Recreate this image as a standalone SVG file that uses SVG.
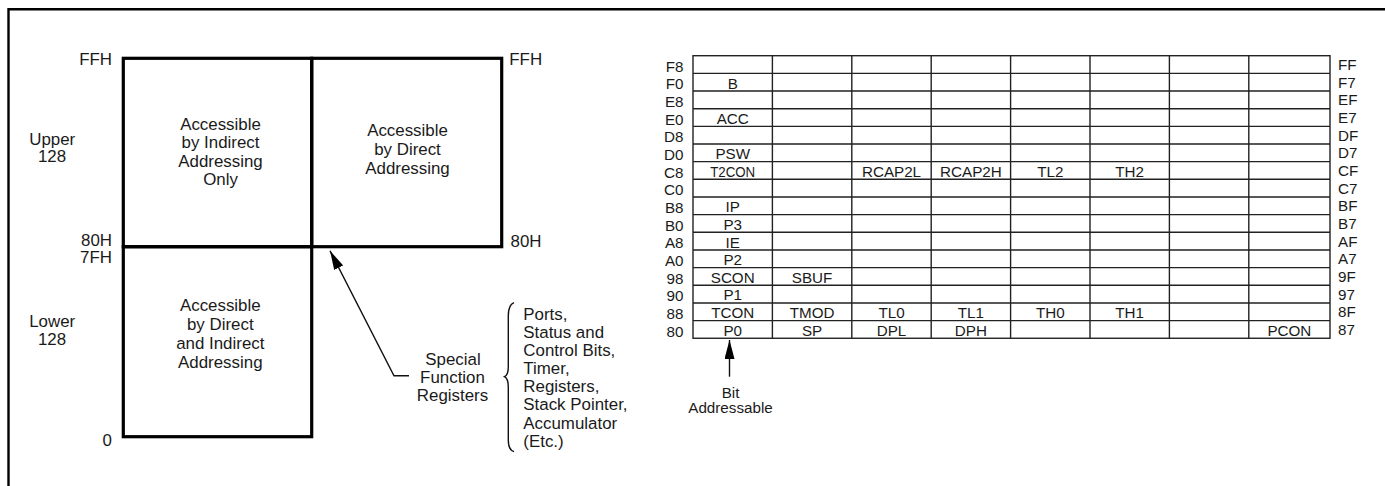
<svg xmlns="http://www.w3.org/2000/svg" width="1385" height="486" viewBox="0 0 1385 486">
<defs>
<style>
.t{font-family:"Liberation Sans",Arial,sans-serif;font-size:16.9px;fill:#1a1a1a}
.s{font-family:"Liberation Sans",Arial,sans-serif;font-size:15.2px;fill:#1a1a1a}
.m{text-anchor:middle}
.e{text-anchor:end}
.box{fill:none;stroke:#000;stroke-width:3.2}
.grid{stroke:#222;stroke-width:1.4;fill:none}
.conn{fill:none;stroke:#111;stroke-width:1.4}
</style>
<marker id="ah" viewBox="0 0 19 10" refX="19" refY="5" markerWidth="19" markerHeight="10" markerUnits="userSpaceOnUse" orient="auto">
<path d="M0,0 L19,5 L0,10 z" fill="#000"/>
</marker>
</defs>
<rect width="1385" height="486" fill="#fff"/>
<path d="M8.5,486 V9.2 H1385" fill="none" stroke="#000" stroke-width="2.4"/>

<g id="upper-indirect">
<rect class="box" x="123.3" y="58.3" width="188.4" height="188.4"/>
<text class="t m" x="220.5" y="130">Accessible</text>
<text class="t m" x="220.5" y="148.4">by Indirect</text>
<text class="t m" x="220.5" y="166.8">Addressing</text>
<text class="t m" x="220.5" y="185.2">Only</text>
</g>
<g id="upper-direct">
<rect class="box" x="311.7" y="58.3" width="190" height="188.4"/>
<text class="t m" x="407.5" y="136">Accessible</text>
<text class="t m" x="407.5" y="155">by Direct</text>
<text class="t m" x="407.5" y="174">Addressing</text>
</g>
<g id="lower">
<rect class="box" x="123.3" y="246.7" width="188.4" height="190"/>
<text class="t m" x="220.3" y="311">Accessible</text>
<text class="t m" x="220.3" y="330">by Direct</text>
<text class="t m" x="220.3" y="349">and Indirect</text>
<text class="t m" x="220.3" y="367.7">Addressing</text>
</g>
<g id="address-labels">
<text class="t e" x="112" y="64.5">FFH</text>
<text class="t m" x="52.2" y="145">Upper</text>
<text class="t m" x="52" y="162.3">128</text>
<text class="t e" x="112" y="246">80H</text>
<text class="t e" x="112" y="263.3">7FH</text>
<text class="t m" x="52.2" y="326.7">Lower</text>
<text class="t m" x="52" y="345">128</text>
<text class="t e" x="112" y="446">0</text>
<text class="t" x="509.3" y="65">FFH</text>
<text class="t" x="510.5" y="247">80H</text>
</g>
<g id="sfr-label">
<text class="t m" x="453" y="365">Special</text>
<text class="t m" x="452.5" y="383">Function</text>
<text class="t m" x="452.5" y="401">Registers</text>
</g>
<g id="sfr-list">
<text class="t" x="523.3" y="320">Ports,</text>
<text class="t" x="523.3" y="338">Status and</text>
<text class="t" x="523.3" y="356">Control Bits,</text>
<text class="t" x="523.3" y="374">Timer,</text>
<text class="t" x="523.3" y="392.3">Registers,</text>
<text class="t" x="523.3" y="410.3">Stack Pointer,</text>
<text class="t" x="523.3" y="428.7">Accumulator</text>
<text class="t" x="523.3" y="446.7">(Etc.)</text>
</g>

<g id="sfr-table">
<rect class="grid" x="693" y="55.7" width="637" height="282.56" stroke-width="1.8"/>
<path class="grid" d="M772.4,55.7V338.26M851.8,55.7V338.26M931.2,55.7V338.26M1010.6,55.7V338.26M1090,55.7V338.26M1169.4,55.7V338.26M1248.8,55.7V338.26
M693,73.36H1330M693,91.02H1330M693,108.68H1330M693,126.34H1330M693,144H1330M693,161.66H1330M693,179.32H1330M693,196.98H1330M693,214.64H1330M693,232.3H1330M693,249.96H1330M693,267.62H1330M693,285.28H1330M693,302.94H1330M693,320.6H1330"/>
<g class="s e">
<text x="683.5" y="71.5">F8</text>
<text x="683.5" y="89.2">F0</text>
<text x="683.5" y="106.8">E8</text>
<text x="683.5" y="124.5">E0</text>
<text x="683.5" y="142.2">D8</text>
<text x="683.5" y="159.8">D0</text>
<text x="683.5" y="177.5">C8</text>
<text x="683.5" y="195.2">C0</text>
<text x="683.5" y="212.8">B8</text>
<text x="683.5" y="230.5">B0</text>
<text x="683.5" y="248.2">A8</text>
<text x="683.5" y="265.8">A0</text>
<text x="683.5" y="283.5">98</text>
<text x="683.5" y="301.2">90</text>
<text x="683.5" y="318.8">88</text>
<text x="683.5" y="336.5">80</text>
</g>
<g class="s">
<text x="1338" y="69.8">FF</text>
<text x="1338" y="87.5">F7</text>
<text x="1338" y="105.2">EF</text>
<text x="1338" y="122.8">E7</text>
<text x="1338" y="140.5">DF</text>
<text x="1338" y="158.2">D7</text>
<text x="1338" y="175.8">CF</text>
<text x="1338" y="193.5">C7</text>
<text x="1338" y="211.2">BF</text>
<text x="1338" y="228.8">B7</text>
<text x="1338" y="246.5">AF</text>
<text x="1338" y="264.2">A7</text>
<text x="1338" y="281.8">9F</text>
<text x="1338" y="299.5">97</text>
<text x="1338" y="317.2">8F</text>
<text x="1338" y="334.8">87</text>
</g>
<g class="s m">
<text x="732.7" y="88.5">B</text>
<text x="732.7" y="123.8">ACC</text>
<text x="732.7" y="159.2">PSW</text>
<text x="732.7" y="176.8" textLength="45" lengthAdjust="spacingAndGlyphs">T2CON</text>
<text x="891.5" y="176.8">RCAP2L</text>
<text x="970.9" y="176.8">RCAP2H</text>
<text x="1050.3" y="176.8">TL2</text>
<text x="1129.7" y="176.8">TH2</text>
<text x="732.7" y="212.1">IP</text>
<text x="732.7" y="229.8">P3</text>
<text x="732.7" y="247.5">IE</text>
<text x="732.7" y="265.1">P2</text>
<text x="732.7" y="282.8">SCON</text>
<text x="812.1" y="282.8">SBUF</text>
<text x="732.7" y="300.4">P1</text>
<text x="732.7" y="318.1">TCON</text>
<text x="812.1" y="318.1">TMOD</text>
<text x="891.5" y="318.1">TL0</text>
<text x="970.9" y="318.1">TL1</text>
<text x="1050.3" y="318.1">TH0</text>
<text x="1129.7" y="318.1">TH1</text>
<text x="732.7" y="335.8">P0</text>
<text x="812.1" y="335.8">SP</text>
<text x="891.5" y="335.8">DPL</text>
<text x="970.9" y="335.8">DPH</text>
<text x="1289.4" y="335.8">PCON</text>
</g>
</g>
<g id="bit-addressable">
<text class="s m" x="730.5" y="398.3">Bit</text>
<text class="s m" x="730.5" y="412.7">Addressable</text>
</g>

<g id="connectors">
<polyline class="conn" points="409,375.7 394,375.7 330,250.7" marker-end="url(#ah)"/>
<path class="conn" d="M514,302.7 Q508.3,305 508.3,316 L508.3,367 Q508.3,375 504.5,376.7 Q508.3,378.5 508.3,387 L508.3,440 Q508.3,450 514,451.7"/>
<line class="conn" x1="729.5" y1="376.7" x2="729.5" y2="340" marker-end="url(#ah)"/>
</g>
</svg>
